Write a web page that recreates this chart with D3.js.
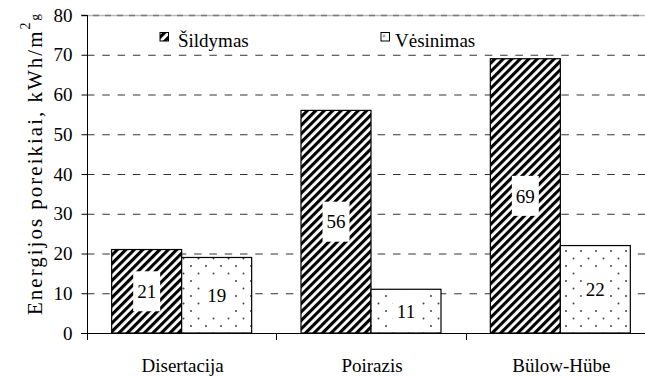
<!DOCTYPE html>
<html>
<head>
<meta charset="utf-8">
<script src="https://cdn.jsdelivr.net/npm/d3@7"></script>
<style>
  html, body { margin: 0; padding: 0; background: #fff; }
  svg { display: block; }
  svg text { font-family: "Liberation Serif", serif; fill: #000; }
</style>
</head>
<body>
<svg id="chart" width="645" height="377"></svg>
<script>
// Energy demand per study: heating vs cooling, kWh/m²
const categories = ["Disertacija", "Poirazis", "Bülow-Hübe"];
const seriesNames = ["Šildymas", "Vėsinimas"];
const heating = [21, 56, 69];
const cooling = [19, 11, 22];
const yTicks = [0, 10, 20, 30, 40, 50, 60, 70, 80];

const FONT = "Liberation Serif";
const svg = d3.select("#chart");

// Plot frame (right side runs past the visible canvas)
const plotLeft = 87, plotTop = 15, plotBottom = 333, plotRight = 655;

const y = d3.scaleLinear().domain([0, 80]).range([plotBottom, plotTop]);
const x = d3.scaleBand().domain(categories).range([plotLeft, plotRight]).padding(0);
const bw = x.bandwidth();
const x1 = d3.scaleBand().domain(seriesNames)
  .range([(bw - 140) / 2, (bw + 140) / 2]).padding(0);

// Fill patterns
const defs = svg.append("defs");
const hatch = defs.append("pattern")
  .attr("id", "hatch").attr("patternUnits", "userSpaceOnUse")
  .attr("width", 6).attr("height", 6)
  .attr("patternTransform", "rotate(45)");
hatch.append("rect").attr("width", 6).attr("height", 6).attr("fill", "#fff");
hatch.append("rect").attr("width", 3.1).attr("height", 6).attr("fill", "#000");

function dotPattern(id, ox, oy) {
  const p = defs.append("pattern")
    .attr("id", id).attr("patternUnits", "userSpaceOnUse")
    .attr("x", ox).attr("y", oy)
    .attr("width", 15).attr("height", 15);
  p.append("rect").attr("width", 15).attr("height", 15).attr("fill", "#fff");
  p.append("circle").attr("cx", 3.5).attr("cy", 3.5).attr("r", 1).attr("fill", "#444");
  p.append("circle").attr("cx", 11).attr("cy", 11).attr("r", 1).attr("fill", "#444");
}
dotPattern("dots", 0, 0);
dotPattern("dotsKey", 380.5, 32.5);

const fills = { "Šildymas": "url(#hatch)", "Vėsinimas": "url(#dots)" };
const keyFills = { "Šildymas": "url(#hatch)", "Vėsinimas": "url(#dotsKey)" };

// Gridlines
const grid = svg.append("g");
grid.selectAll("line.g")
  .data(yTicks.filter(t => t > 0 && t < 80))
  .join("line")
  .attr("x1", plotLeft).attr("x2", plotRight)
  .attr("y1", d => y(d) + 0.5).attr("y2", d => y(d) + 0.5)
  .attr("stroke", "#333").attr("stroke-width", 1)
  .attr("stroke-dasharray", "7.5,7.8");
grid.append("line")
  .attr("x1", plotLeft - 6).attr("x2", plotRight)
  .attr("y1", y(80) + 0.5).attr("y2", y(80) + 0.5)
  .attr("stroke", "#b8b8b8").attr("stroke-width", 1.6);
grid.append("line")
  .attr("x1", plotLeft - 6).attr("x2", plotRight)
  .attr("y1", y(80) + 0.5).attr("y2", y(80) + 0.5)
  .attr("stroke", "#7a7a7a").attr("stroke-width", 1.6)
  .attr("stroke-dasharray", "6,6");

// Bars
const rows = [];
categories.forEach((c, i) => {
  rows.push({ cat: c, s: seriesNames[0], v: heating[i] });
  rows.push({ cat: c, s: seriesNames[1], v: cooling[i] });
});

const bars = svg.append("g").selectAll("g").data(rows).join("g");
bars.append("rect")
  .attr("x", d => x(d.cat) + x1(d.s))
  .attr("y", d => y(d.v))
  .attr("width", x1.bandwidth())
  .attr("height", d => y(0) - y(d.v))
  .attr("fill", d => fills[d.s])
  .attr("stroke", "#000").attr("stroke-width", 1.2);

// Value labels on white boxes at bar middle
bars.append("rect")
  .attr("x", d => x(d.cat) + x1(d.s) + x1.bandwidth() / 2 - 13.5)
  .attr("y", d => y(d.v / 2) - 20)
  .attr("width", 27).attr("height", 40)
  .attr("fill", "#fff");
bars.append("text")
  .attr("x", d => x(d.cat) + x1(d.s) + x1.bandwidth() / 2)
  .attr("y", d => y(d.v / 2))
  .attr("dy", "0.35em")
  .attr("text-anchor", "middle")
  .style("font-family", FONT)
  .style("font-size", "19px")
  .text(d => d.v);

// Axes
const yAxis = d3.axisLeft(y).tickValues(yTicks).tickSize(6).tickPadding(9);
const gy = svg.append("g").attr("transform", `translate(${plotLeft + 0.5},0)`).call(yAxis);
gy.select(".domain").attr("d", `M0,${plotTop}V${plotBottom}`).attr("stroke", "#000");
gy.selectAll(".tick line").attr("stroke", "#000");
gy.selectAll(".tick text")
  .style("font-family", FONT).style("font-size", "19px").attr("fill", "#000");

svg.append("line")
  .attr("x1", plotLeft - 6).attr("x2", 645)
  .attr("y1", plotBottom + 0.5).attr("y2", plotBottom + 0.5)
  .attr("stroke", "#000");

// Category boundary ticks
const bounds = categories.map(c => x(c)).concat([plotRight]);
svg.append("g").selectAll("line").data(bounds).join("line")
  .attr("x1", d => Math.round(d) + 0.5).attr("x2", d => Math.round(d) + 0.5)
  .attr("y1", plotBottom).attr("y2", plotBottom + 7)
  .attr("stroke", "#000");

// Category labels
svg.append("g").selectAll("text").data(categories).join("text")
  .attr("x", d => x(d) + bw / 2 + 1)
  .attr("y", 372)
  .attr("text-anchor", "middle")
  .style("font-family", FONT).style("font-size", "19px")
  .text(d => d);

// Y axis title
const yt = svg.append("text")
  .attr("transform", "translate(42,315) rotate(-90)")
  .style("font-family", FONT).style("font-size", "21px");
yt.append("tspan").text("Energijos poreikiai, kWh/m");
yt.append("tspan").style("font-size", "14px").attr("dy", -12).text("2");
yt.append("tspan").style("font-size", "13px").attr("dy", 9).text("g");
const tl = yt.node().getComputedTextLength();
const chars = "Energijos poreikiai, kWh/m2g".length;
yt.style("letter-spacing", Math.max(0, (303 - tl) / chars) + "px");

// Legend
const legend = [
  { name: seriesNames[0], sx: 160, tx: 178 },
  { name: seriesNames[1], sx: 381, tx: 395 }
];
const lg = svg.append("g").selectAll("g").data(legend).join("g");
lg.append("rect")
  .attr("x", d => d.sx).attr("y", 32.5)
  .attr("width", 8.5).attr("height", 8.5)
  .attr("fill", d => keyFills[d.name])
  .attr("stroke", "#000").attr("stroke-width", 1);
lg.append("text")
  .attr("x", d => d.tx).attr("y", 47)
  .style("font-family", FONT).style("font-size", "19px")
  .text(d => d.name);
</script>
</body>
</html>
